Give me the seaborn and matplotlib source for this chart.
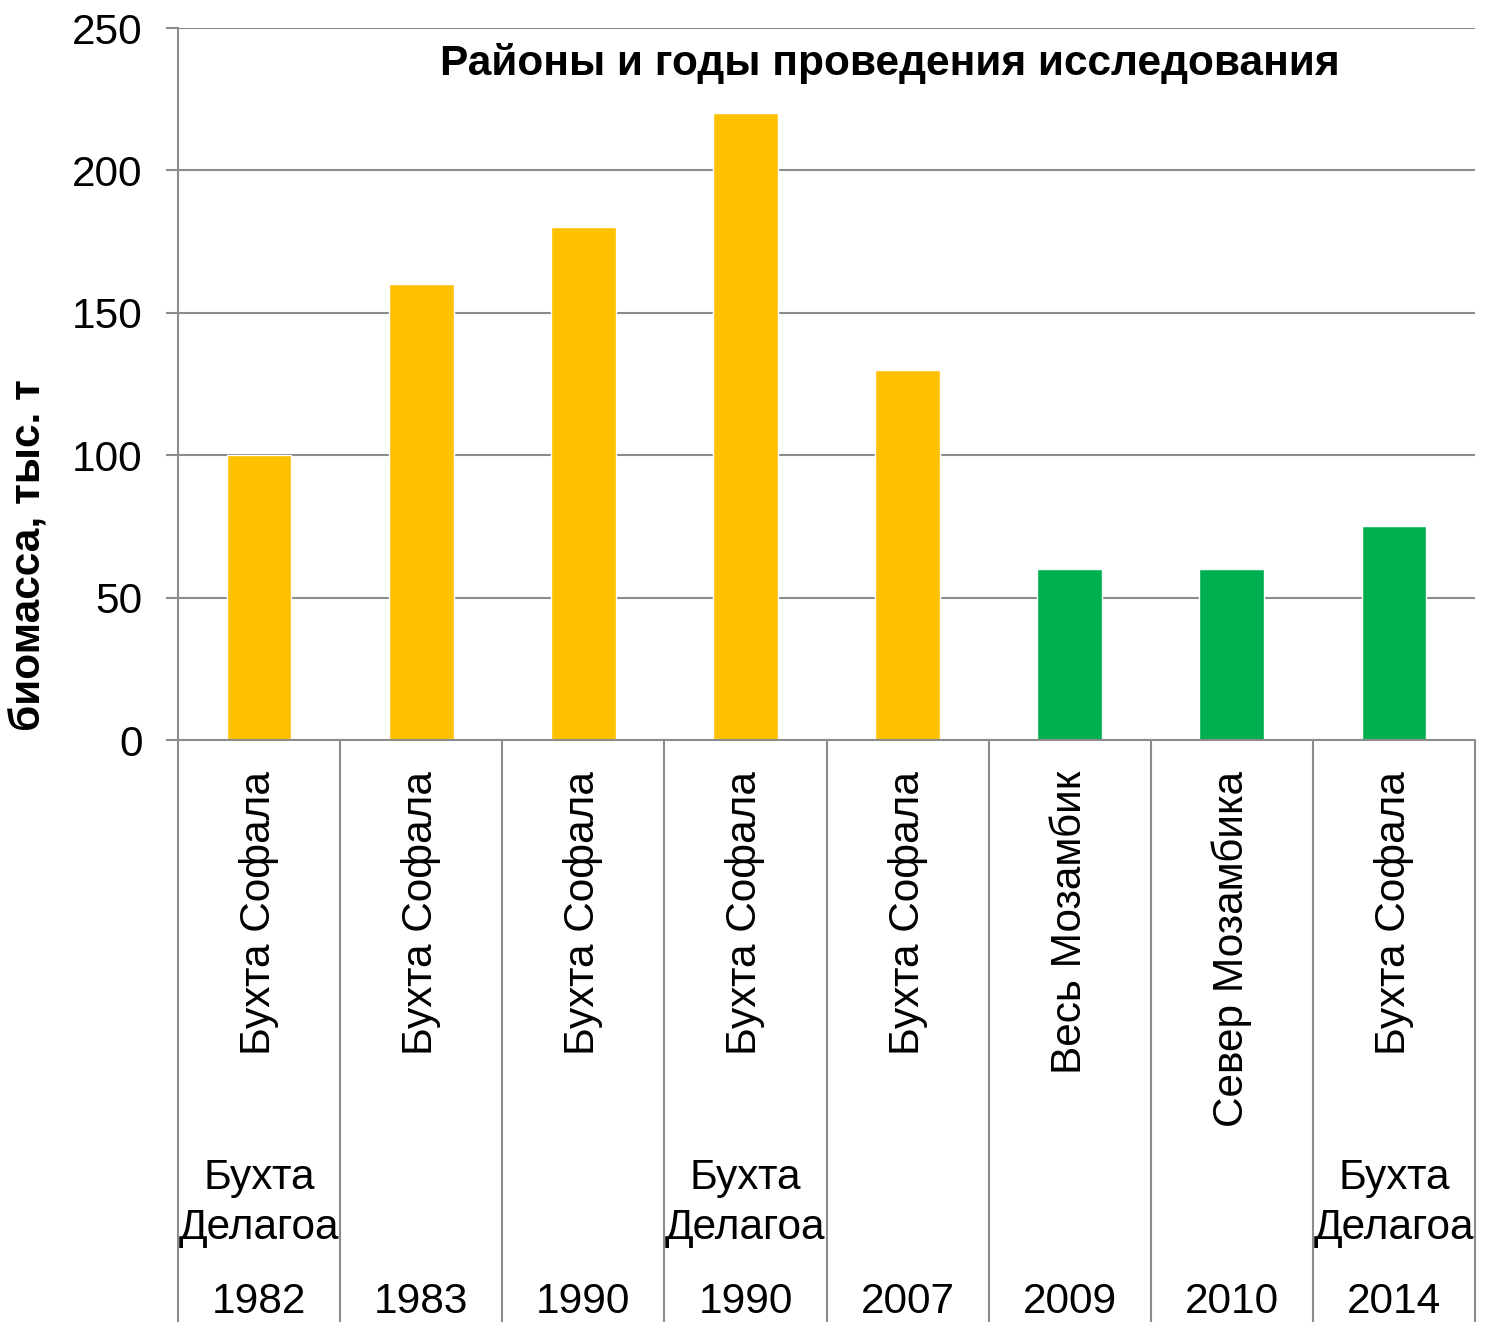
import matplotlib
matplotlib.use("Agg")
import matplotlib.pyplot as plt
import seaborn as sns
import pandas as pd

regions = ["Бухта Софала", "Бухта Софала", "Бухта Софала", "Бухта Софала",
           "Бухта Софала", "Весь Мозамбик", "Север Мозамбика", "Бухта Софала"]
second_row = ["Бухта\nДелагоа", "", "", "Бухта\nДелагоа", "", "", "", "Бухта\nДелагоа"]
years = ["1982", "1983", "1990", "1990", "2007", "2009", "2010", "2014"]
biomass = [100, 160, 180, 220, 130, 60, 60, 75]
group = ["old", "old", "old", "old", "old", "new", "new", "new"]
palette = {"old": "#FFC000", "new": "#00B050"}

sns.set_theme(style="white")
plt.rcParams['font.family'] = ['Liberation Sans', 'DejaVu Sans']
plt.rcParams['text.color'] = 'black'
plt.rcParams['ytick.color'] = 'black'

FS = 30.5
df = pd.DataFrame({"idx": list(range(len(biomass))), "val": biomass, "grp": group})

fig = plt.figure(figsize=(14.93, 13.22), dpi=100)
ax = fig.add_axes([178/1493, 1-740/1322, (1475-178)/1493, (740-28)/1322])

sns.barplot(data=df, x="idx", y="val", hue="grp", palette=palette, dodge=False,
            width=0.4, legend=False, ax=ax, saturation=1)

ax.set_xlim(-0.5, len(biomass)-0.5)
ax.set_ylim(0, 250)
ax.set_yticks([0, 50, 100, 150, 200, 250])
ax.yaxis.grid(True, color="#8c8c8c", linewidth=1.5)
ax.set_axisbelow(True)
ax.tick_params(axis="y", which="major", length=8.6, width=1.5, color="#8c8c8c",
               labelsize=FS, pad=17, left=True, labelcolor="black")
ax.set_xticks([])
ax.set_xlabel("")
ax.set_ylabel("")
for s in ["top", "right"]:
    ax.spines[s].set_visible(False)
ax.spines["left"].set_color("#8c8c8c")
ax.spines["left"].set_linewidth(1.5)
ax.spines["bottom"].set_color("#8c8c8c")
ax.spines["bottom"].set_linewidth(1.5)

tr = ax.get_xaxis_transform()
h_ax = (740-28)/1322
def ay(py):
    # pixel y in figure -> axes fraction
    return (1 - py/1322 - (1-740/1322)) / h_ax

# category separators below axis
for k in range(len(biomass)+1):
    ax.plot([k-0.5, k-0.5], [0, ay(1322)], transform=tr, color="#8c8c8c",
            linewidth=1.5, clip_on=False)

for i in range(len(biomass)):
    ax.text(i, ay(771), regions[i], transform=tr, rotation=90, ha="center", va="top",
            fontsize=FS, color="black")
    if second_row[i]:
        ax.text(i, ay(1203), second_row[i], transform=tr, ha="center", va="center",
                fontsize=FS, linespacing=1.3, color="black")
    ax.text(i, ay(1302), years[i], transform=tr, ha="center", va="center",
            fontsize=FS, color="black")

ax.text((890-178)/(1475-178), ay(63), "Районы и годы проведения исследования",
        transform=ax.transAxes, ha="center", va="center", fontsize=FS,
        fontweight="bold", color="black")

fig.text(30/1493, 1-555/1322, "биомасса, тыс. т", rotation=90, ha="center", va="center",
         fontsize=FS, fontweight="bold", color="black")

fig.savefig("out.png", dpi=100)
